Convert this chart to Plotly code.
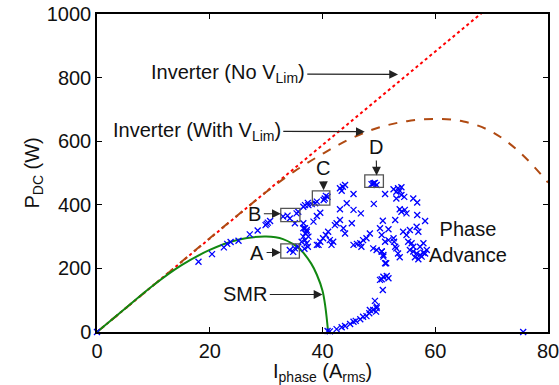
import plotly.graph_objects as go

# ---- data ----
red_x = [0, 10, 20, 30, 40, 50, 60, 70]
red_y = [0, 147, 294, 441, 588, 735, 882, 1029]

brown_x = [0, 10, 20, 25, 30, 35, 40, 45, 50, 55, 60, 65, 70, 75, 80]
brown_y = [0, 147, 295, 368, 440, 505, 560, 608, 643, 663, 670, 662, 630, 565, 470]

smr_x = [0, 5, 10, 15, 20, 25, 30, 33, 36, 38, 39, 40, 40.5, 41]
smr_y = [0, 74, 147, 210, 258, 290, 300, 292, 260, 215, 180, 130, 80, 0]

pa_x = [0, 75.6,
        18.0, 20.4, 22.5, 23.1, 23.7, 25.1, 27.1, 28.5, 29.9, 30.3, 30.7, 30.1,
        33.0, 34.2, 35.4, 35.7, 35.1, 33.8,
        34.2, 35.1, 35.7, 34.8,
        36.9, 37.4, 36.6, 37.5, 38.1, 38.7,
        36.6, 36.9, 37.2, 36.6, 37.5, 36.3, 36.9, 37.2, 37.4, 36.8, 37.0, 37.2, 36.6,
        40.4, 40.9, 40.2, 39.0, 40.6,
        38.4, 39.0, 39.6,
        41.0, 40.6, 40.1, 39.6, 39.3, 39.0, 41.9, 41.6, 41.3,
        43.1, 42.5, 42.2, 43.7, 44.0, 45.2,
        43.1, 43.6, 44.0, 43.4, 45.5,
        44.3, 43.1, 45.5, 46.8,
        48.7, 49.1, 49.6, 49.3, 49.0,
        49.1, 50.7, 51.1,
        52.6, 53.4, 53.7, 53.1, 54.0, 53.1, 54.5, 54.0,
        56.1, 56.8,
        52.9, 53.7, 54.0, 54.6, 54.9, 56.8, 58.2,
        45.5, 46.1, 46.7, 46.9, 47.2, 47.8, 48.4,
        49.0, 49.6, 50.5, 50.8, 51.3,
        50.2, 51.7, 50.5, 51.1, 51.7,
        52.6, 52.7, 52.9, 53.1, 53.4, 53.7,
        54.3, 54.9, 55.5, 55.2, 55.8,
        55.5, 56.1, 56.7, 57.3, 57.9, 56.4, 57.0, 57.6, 58.2, 58.5, 56.1,
        56.7, 57.0, 57.9, 57.3,
        40.9, 41.3, 42.5, 43.4, 44.0, 44.9, 45.5, 45.9, 46.7, 47.2, 47.8, 48.3, 48.4,
        49.5, 49.6, 49.0, 49.3, 49.6, 50.7, 50.5, 51.4, 50.8, 51.7, 50.2, 51.1, 50.8, 50.5]
pa_y = [0, 0,
        221, 245, 266, 277, 283, 287, 307, 319, 336, 344, 349, 340,
        363, 357, 373, 378, 342, 366,
        258, 263, 268, 252,
        399, 406, 394, 399, 402, 405,
        342, 326, 315, 300, 300, 284, 289, 279, 268, 262, 310, 321, 326,
        420, 425, 415, 410, 428,
        347, 365, 375,
        315, 305, 295, 284, 274, 274, 284, 274, 289,
        352, 342, 336, 326, 310, 342,
        452, 457, 462, 444, 434,
        405, 386, 384, 373,
        465, 468, 462, 469, 466,
        403, 350, 434,
        449, 452, 444, 441, 431, 420, 425, 455,
        420, 407,
        352, 386, 378, 384, 373, 368, 349,
        274, 277, 279, 268, 289, 295, 310,
        263, 258, 253, 237, 216,
        326, 323, 305, 284, 289,
        295, 284, 268, 263, 247, 235,
        315, 305, 321, 284, 279,
        258, 253, 247, 242, 249, 235, 229, 237, 247, 258, 268,
        331, 315, 279, 268,
        3, 2, 9, 15, 19, 25, 32, 35, 40, 48, 50, 59, 69,
        64, 75, 69, 98, 80, 132, 166, 176, 174, 169, 164, 216, 242, 253]

x_ticks = [0, 20, 40, 60, 80]
y_ticks = [0, 200, 400, 600, 800, 1000]

# operating-point boxes: label, x0, x1, y0, y1
box_labels = ["A", "B", "C", "D"]
box_x0 = [32.6, 32.6, 38.2, 47.5]
box_x1 = [35.9, 36.0, 41.3, 50.8]
box_y0 = [232, 347, 399, 455]
box_y1 = [277, 389, 444, 494]

FONT = "Liberation Sans, Arial, Helvetica, sans-serif"
FS = 20

fig = go.Figure()
fig.add_trace(go.Scatter(x=red_x, y=red_y, mode="lines",
                         line=dict(color="#ff0000", width=2, dash="dot"),
                         showlegend=False))
fig.add_trace(go.Scatter(x=brown_x, y=brown_y, mode="lines", line_shape="spline",
                         line=dict(color="#b04a12", width=2, dash="dash"),
                         showlegend=False))
fig.add_trace(go.Scatter(x=smr_x, y=smr_y, mode="lines", line_shape="spline",
                         line=dict(color="#118811", width=2),
                         showlegend=False))
fig.add_trace(go.Scatter(x=pa_x, y=pa_y, mode="markers",
                         marker=dict(symbol="x-thin", size=6, color="blue",
                                     line=dict(color="blue", width=1.3)),
                         showlegend=False, cliponaxis=False))

for i in range(len(box_labels)):
    fig.add_shape(type="rect", xref="x", yref="y",
                  x0=box_x0[i], x1=box_x1[i], y0=box_y0[i], y1=box_y1[i],
                  line=dict(color="#555555", width=1.3))

def arrow(text, tx, ty, hx, hy):
    fig.add_annotation(x=hx, y=hy, ax=tx, ay=ty, xref="x", yref="y",
                       axref="x", ayref="y", text=text, showarrow=True,
                       arrowhead=2, arrowsize=1.6, arrowwidth=1.1,
                       arrowcolor="#222222", standoff=0, startstandoff=1,
                       font=dict(family=FONT, size=FS, color="#111111"))

arrow("Inverter (No V<sub>Lim</sub>)", 23.2, 812, 53.4, 810)
arrow("Inverter (With V<sub>Lim</sub>)", 17.7, 632, 47.5, 630)
arrow("D", 49.5, 582, 49.6, 492)
arrow("C", 40.1, 515, 40.2, 446)
arrow("B", 28.0, 372, 32.6, 372)
arrow("A", 28.4, 250, 32.6, 250)
arrow("SMR", 26.3, 118, 40.0, 118)

fig.add_annotation(x=65.8, y=283, xref="x", yref="y", text="Phase<br>Advance",
                   showarrow=False, font=dict(family=FONT, size=FS, color="#111111"))

# axis titles as paper annotations
fig.add_annotation(x=0.5, y=-0.083, xref="paper", yref="paper", yanchor="top",
                   text="I<sub>phase</sub> (A<sub>rms</sub>)", showarrow=False,
                   font=dict(family=FONT, size=FS, color="#111111"))
fig.add_annotation(x=-0.175, y=0.5, xref="paper", yref="paper", textangle=-90,
                   text="P<sub>DC</sub> (W)", showarrow=False,
                   font=dict(family=FONT, size=FS, color="#111111"))

axis_common = dict(showline=True, linecolor="black", linewidth=1.5, mirror="ticks",
                   ticks="inside", ticklen=5, tickcolor="black", tickwidth=1,
                   showgrid=False, zeroline=False, automargin=False,
                   ticklabeloverflow="allow",
                   tickfont=dict(family=FONT, size=FS, color="#111111"))

fig.update_xaxes(range=[0, 80], tickvals=x_ticks, **axis_common)
fig.update_yaxes(range=[0, 1000], tickvals=y_ticks, **axis_common)

fig.update_layout(width=559, height=385,
                  margin=dict(l=97, r=11, t=14, b=53),
                  plot_bgcolor="white", paper_bgcolor="white")

# remove the default 8px page margin so the figure fills the window exactly
fig.write_html("out.html", config={"displayModeBar": False},
               post_script="document.body.style.margin='0';document.body.style.overflow='hidden';")
